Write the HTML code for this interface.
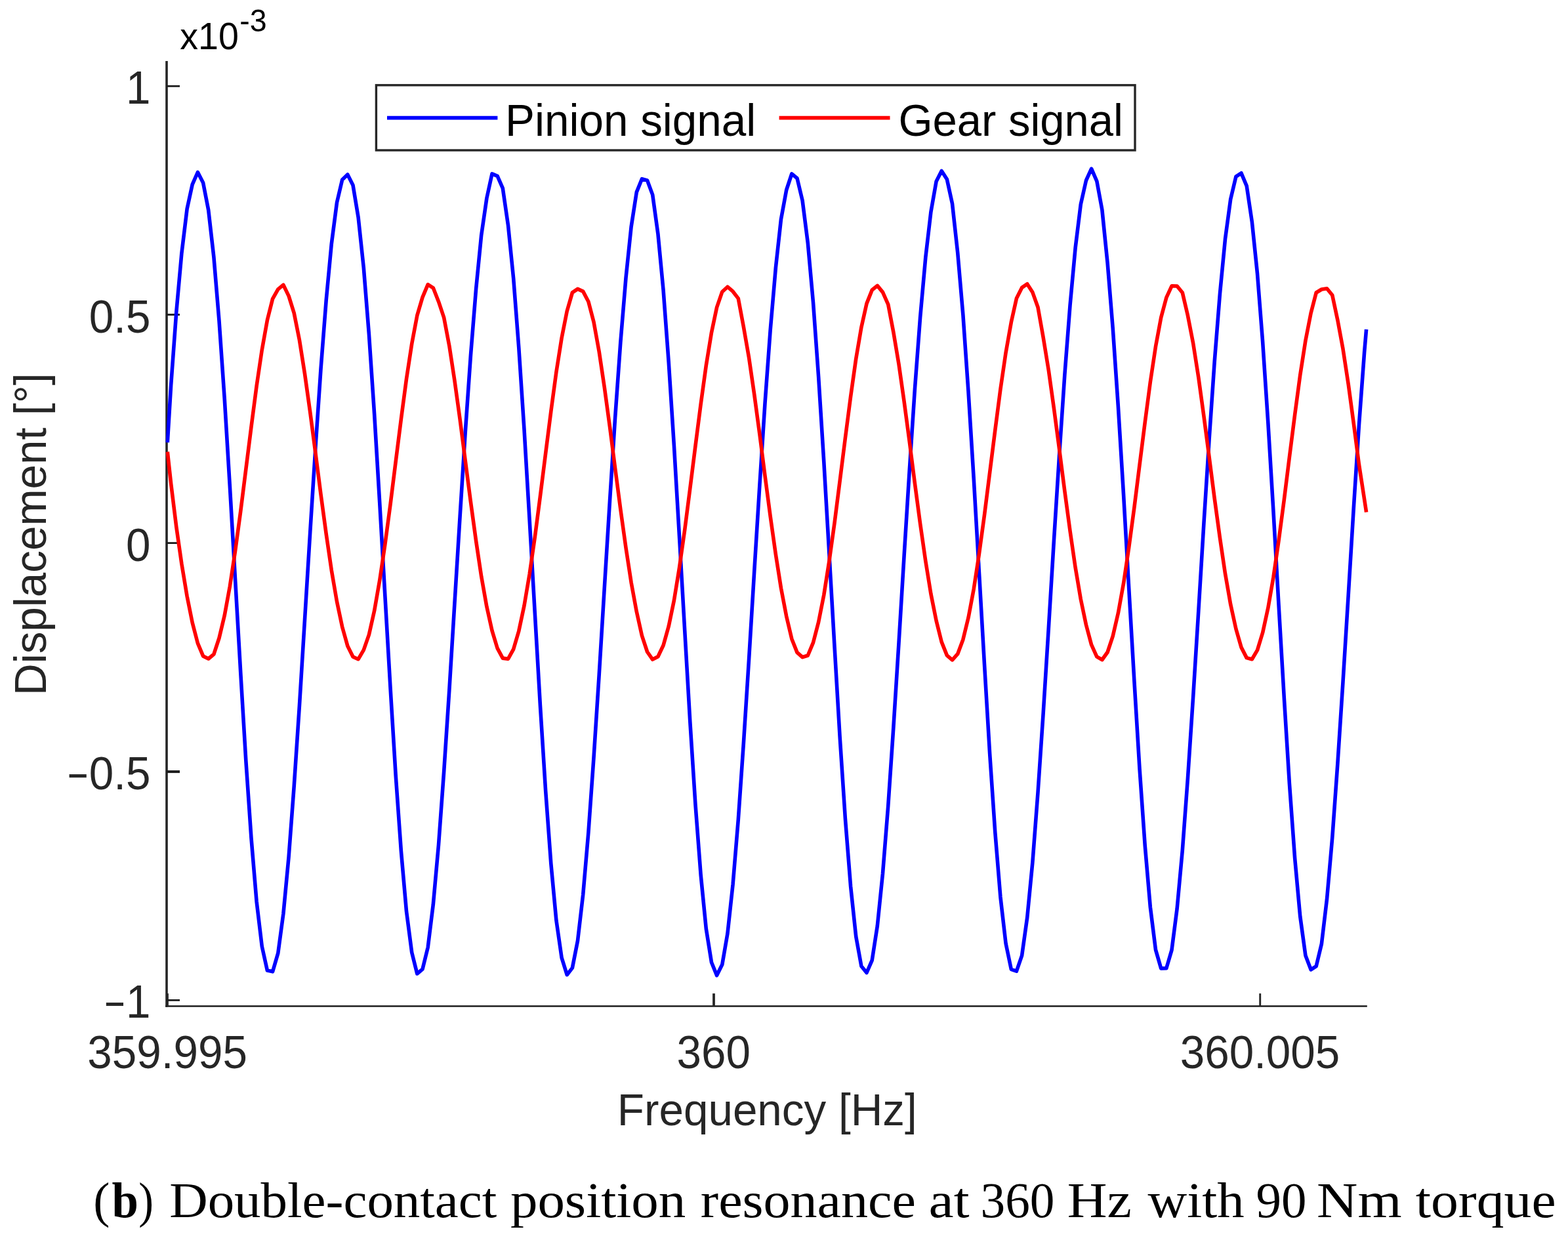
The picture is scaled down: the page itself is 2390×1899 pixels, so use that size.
<!DOCTYPE html>
<html lang="en">
<head>
<meta charset="utf-8">
<title>Double-contact position resonance at 360 Hz with 90 Nm torque</title>
<style>
html,body{margin:0;padding:0;background:#fff;}
body{width:2390px;height:1899px;overflow:hidden;}
svg{display:block;}
</style>
</head>
<body>
<svg width="2390" height="1899" viewBox="0 0 2390 1899" role="img" aria-label="Pinion and gear signal displacement versus frequency">
<rect width="2390" height="1899" fill="#fff"/>
<g fill="none" stroke-linecap="butt">
<line x1="254.0" y1="93.1" x2="254.0" y2="1534.80" stroke="#262626" stroke-width="3.6"/>
<line x1="252.20" y1="1533.5" x2="2083.8" y2="1533.5" stroke="#1c1c1c" stroke-width="2.6"/>
<line x1="255.3" y1="1533.5" x2="255.3" y2="1514.1" stroke="#262626" stroke-width="3.2"/>
<line x1="1088.0" y1="1533.5" x2="1088.0" y2="1514.1" stroke="#262626" stroke-width="3.8"/>
<line x1="1920.7" y1="1533.5" x2="1920.7" y2="1514.1" stroke="#262626" stroke-width="2.9"/>
<line x1="254.0" y1="131.3" x2="274.0" y2="131.3" stroke="#1c1c1c" stroke-width="2.8"/>
<line x1="254.0" y1="479.6" x2="274.0" y2="479.6" stroke="#1c1c1c" stroke-width="2.9"/>
<line x1="254.0" y1="827.6" x2="274.0" y2="827.6" stroke="#1c1c1c" stroke-width="2.8"/>
<line x1="254.0" y1="1176.1" x2="274.0" y2="1176.1" stroke="#1c1c1c" stroke-width="4.0"/>
<line x1="254.0" y1="1524.4" x2="274.0" y2="1524.4" stroke="#1c1c1c" stroke-width="2.8"/>
</g>
<polyline points="255.3,674.4 260.6,587.5 268.8,475.5 276.9,385.8 285.1,318.3 293.2,281.2 301.4,262.5 309.6,278.5 317.7,320.1 325.9,391.9 334.0,489.0 342.2,607.2 350.3,740.5 358.5,882.2 366.7,1024.3 374.8,1158.8 383.0,1277.7 391.1,1374.1 399.3,1442.5 407.4,1479.1 415.6,1480.8 423.8,1452.6 431.9,1392.5 440.1,1305.9 448.2,1198.3 456.4,1075.8 464.5,944.6 472.7,811.4 480.9,682.1 489.0,562.5 497.2,457.5 505.3,371.6 513.5,308.6 521.6,274.1 529.8,266.0 538.0,282.2 546.1,331.3 554.3,408.0 562.4,509.3 570.6,630.7 578.7,766.1 586.9,908.5 595.1,1049.8 603.2,1182.0 611.4,1297.2 619.5,1388.9 627.7,1451.6 635.8,1484.0 644.0,1477.1 652.2,1443.8 660.3,1378.4 668.5,1287.6 676.6,1176.8 684.8,1052.2 692.9,920.2 701.1,787.2 709.2,659.3 717.4,542.0 725.6,440.2 733.7,358.3 741.9,302.0 750.0,264.9 758.2,268.4 766.3,286.9 774.5,343.3 782.7,424.8 790.8,530.2 799.0,654.6 807.1,791.9 815.3,934.7 823.4,1075.0 831.6,1204.6 839.8,1316.0 847.9,1402.7 856.1,1459.7 864.2,1485.7 872.4,1475.1 880.5,1433.9 888.7,1363.5 896.9,1268.6 905.0,1154.8 913.2,1028.3 921.3,895.7 929.5,763.2 937.6,636.9 945.8,522.0 954.0,423.6 962.1,345.7 970.3,292.9 978.4,272.7 986.6,275.0 994.7,296.9 1002.9,356.3 1011.1,442.5 1019.2,551.8 1027.4,679.1 1035.5,817.9 1043.7,960.9 1051.8,1099.8 1060.0,1226.6 1068.2,1333.9 1076.3,1415.5 1084.5,1466.7 1092.6,1486.6 1100.8,1469.9 1108.9,1423.1 1117.1,1347.8 1125.3,1249.0 1133.4,1132.3 1141.6,1004.3 1149.7,871.2 1157.9,739.4 1166.0,614.8 1174.2,502.6 1182.4,407.7 1190.5,333.9 1198.7,289.5 1206.8,265.0 1215.0,271.6 1223.1,305.7 1231.3,370.2 1239.5,460.9 1247.6,573.9 1255.8,703.9 1263.9,844.1 1272.1,986.9 1280.2,1124.2 1288.4,1247.9 1296.6,1351.0 1304.7,1427.2 1312.9,1472.5 1321.0,1482.5 1329.2,1463.6 1337.3,1411.3 1345.5,1331.3 1353.7,1228.7 1361.8,1109.5 1370.0,980.0 1378.1,846.8 1386.3,715.9 1394.4,593.1 1402.6,483.8 1410.8,392.4 1418.9,323.0 1427.1,276.6 1435.2,260.5 1443.4,273.3 1451.5,310.4 1459.7,385.0 1467.9,480.1 1476.0,596.7 1484.2,729.0 1492.3,870.3 1500.5,1012.7 1508.6,1148.1 1516.8,1268.6 1524.9,1367.1 1533.1,1438.0 1541.3,1477.3 1549.4,1480.2 1557.6,1456.3 1565.7,1398.5 1573.9,1314.0 1582.0,1207.9 1590.2,1086.4 1598.4,955.7 1606.5,822.4 1614.7,692.6 1622.8,571.9 1631.0,465.6 1639.1,377.9 1647.3,311.3 1655.5,275.0 1663.6,257.2 1671.8,276.1 1679.9,320.1 1688.1,400.6 1696.2,500.0 1704.4,620.0 1712.6,754.5 1720.7,896.6 1728.9,1038.3 1737.0,1171.5 1745.2,1288.5 1753.3,1382.3 1761.5,1447.6 1769.7,1475.9 1777.8,1475.8 1786.0,1447.9 1794.1,1384.9 1802.3,1296.0 1810.4,1186.6 1818.6,1062.9 1826.8,931.3 1834.9,798.2 1843.1,669.6 1851.2,551.2 1859.4,448.0 1867.5,364.2 1875.7,303.6 1883.9,269.2 1892.0,263.8 1900.2,283.4 1908.3,337.8 1916.5,417.1 1924.6,520.6 1932.8,643.7 1941.0,780.2 1949.1,922.8 1957.3,1063.6 1965.4,1194.4 1973.6,1307.6 1981.7,1396.5 1989.9,1456.2 1998.1,1477.8 2006.2,1472.6 2014.4,1438.5 2022.5,1370.4 2030.7,1277.3 2038.8,1164.8 2047.0,1039.1 2055.2,906.8 2063.3,774.1 2071.5,647.0 2079.6,537.0 2082.6,502.0" fill="none" stroke="#0000ff" stroke-width="5.6" stroke-linejoin="round" stroke-linecap="butt"/>
<polyline points="255.3,688.6 260.6,736.9 268.8,803.1 276.9,859.5 285.1,908.8 293.2,949.0 301.4,980.4 309.6,999.9 317.7,1004.0 325.9,997.1 334.0,972.5 342.2,938.2 350.3,893.9 358.5,840.2 366.7,779.7 374.8,715.3 383.0,650.3 391.1,588.4 399.3,533.2 407.4,487.9 415.6,455.3 423.8,440.8 431.9,434.2 440.1,451.1 448.2,477.1 456.4,518.2 464.5,569.5 472.7,628.0 480.9,690.3 489.0,753.3 497.2,813.8 505.3,869.2 513.5,916.9 521.6,955.2 529.8,984.5 538.0,1001.0 546.1,1004.7 554.3,990.7 562.4,967.3 570.6,930.9 578.7,884.6 586.9,829.6 595.1,768.1 603.2,703.3 611.4,638.6 619.5,577.7 627.7,524.0 635.8,480.9 644.0,453.1 652.2,433.7 660.3,438.8 668.5,459.7 676.6,483.8 684.8,526.9 692.9,579.8 701.1,639.2 709.2,701.9 717.4,764.7 725.6,824.5 733.7,878.6 741.9,924.7 750.0,961.1 758.2,988.2 766.3,1003.1 774.5,1004.2 782.7,989.3 790.8,961.7 799.0,923.1 807.1,875.1 815.3,818.7 823.4,756.4 831.6,691.3 839.8,627.1 847.9,567.2 856.1,515.2 864.2,474.3 872.4,445.9 880.5,440.4 888.7,444.1 896.9,459.8 905.0,490.8 913.2,536.0 921.3,590.3 929.5,650.6 937.6,713.5 945.8,776.0 954.0,834.9 962.1,887.7 970.3,932.2 978.4,968.6 986.6,993.5 994.7,1005.1 1002.9,1000.8 1011.1,983.5 1019.2,954.6 1027.4,915.1 1035.5,865.3 1043.7,807.6 1051.8,744.5 1060.0,679.4 1068.2,615.6 1076.3,557.0 1084.5,506.8 1092.6,468.3 1100.8,444.7 1108.9,437.2 1117.1,444.2 1125.3,454.9 1133.4,498.3 1141.6,545.3 1149.7,601.0 1157.9,662.0 1166.0,725.1 1174.2,787.1 1182.4,845.1 1190.5,896.5 1198.7,939.3 1206.8,973.7 1215.0,994.4 1223.1,1001.7 1231.3,999.0 1239.5,979.4 1247.6,948.2 1255.8,906.7 1263.9,855.3 1272.1,796.3 1280.2,732.6 1288.4,667.5 1296.6,604.4 1304.7,547.0 1312.9,498.8 1321.0,462.6 1329.2,442.0 1337.3,435.4 1345.5,445.4 1353.7,463.8 1361.8,506.1 1370.0,555.0 1378.1,611.9 1386.3,673.5 1394.4,736.7 1402.6,798.1 1410.8,855.1 1418.9,905.1 1427.1,946.0 1435.2,978.4 1443.4,998.9 1451.5,1005.8 1459.7,996.7 1467.9,974.7 1476.0,941.4 1484.2,897.9 1492.3,845.0 1500.5,784.9 1508.6,720.7 1516.8,655.6 1524.9,593.3 1533.1,537.4 1541.3,491.2 1549.4,454.8 1557.6,438.4 1565.7,432.7 1573.9,445.6 1582.0,468.3 1590.2,514.4 1598.4,564.9 1606.5,622.9 1614.7,685.1 1622.8,748.1 1631.0,809.0 1639.1,864.8 1647.3,913.3 1655.5,952.4 1663.6,982.7 1671.8,1000.9 1679.9,1005.5 1688.1,994.0 1696.2,969.7 1704.4,934.2 1712.6,888.8 1720.7,834.4 1728.9,773.4 1737.0,708.7 1745.2,643.9 1753.3,582.5 1761.5,528.1 1769.7,484.0 1777.8,453.7 1786.0,435.8 1794.1,436.0 1802.3,446.0 1810.4,480.7 1818.6,522.9 1826.8,575.1 1834.9,634.1 1843.1,696.7 1851.2,759.6 1859.4,819.7 1867.5,874.3 1875.7,921.2 1883.9,958.5 1892.0,986.6 1900.2,1002.6 1908.3,1004.7 1916.5,990.9 1924.6,964.3 1932.8,926.7 1941.0,879.5 1949.1,823.6 1957.3,761.7 1965.4,696.7 1973.6,632.3 1981.7,571.9 1989.9,519.2 1998.1,477.2 2006.2,446.0 2014.4,441.0 2022.5,439.8 2030.7,449.7 2038.8,487.6 2047.0,531.8 2055.2,585.5 2063.3,645.4 2071.5,708.3 2079.6,760.9 2082.6,780.7" fill="none" stroke="#ff0000" stroke-width="5.6" stroke-linejoin="round" stroke-linecap="butt"/>
<g font-family="'Liberation Sans', sans-serif" font-size="67.4" fill="#262626">
<text transform="translate(229.5,158.2) scale(1,1.045)" text-anchor="end">1</text>
<text transform="translate(229.5,506.5) scale(1,1.045)" text-anchor="end">0.5</text>
<text transform="translate(229.5,854.5) scale(1,1.045)" text-anchor="end">0</text>
<text transform="translate(0,1203.0) scale(1,1.045)"><tspan x="102.8" dy="2.6" textLength="31.5" lengthAdjust="spacingAndGlyphs">−</tspan><tspan x="135.8" dy="-2.6">0.5</tspan></text>
<text transform="translate(0,1551.3) scale(1,1.045)"><tspan x="159.0" dy="2.6" textLength="31.5" lengthAdjust="spacingAndGlyphs">−</tspan><tspan x="192.0" dy="-2.6">1</tspan></text>
<text transform="translate(255.1,1627.8) scale(1,1.045)" text-anchor="middle">359.995</text>
<text transform="translate(1087.8,1627.8) scale(1,1.045)" text-anchor="middle">360</text>
<text transform="translate(1920.5,1627.8) scale(1,1.045)" text-anchor="middle">360.005</text>
<text transform="translate(1169.3,1715.2) scale(1,1.03)" text-anchor="middle">Frequency [Hz]</text>
<text transform="translate(70,814.3) rotate(-90) scale(1,1.03)" text-anchor="middle">Displacement [°]</text>
</g>
<text transform="translate(274.3,75.1) scale(1,1.035)" font-family="'Liberation Sans', sans-serif" font-size="55.6" fill="#000">x10<tspan font-size="46.5" dx="1.3" dy="-26">-3</tspan></text>
<rect x="573.4" y="129.8" width="1156.6" height="99.2" fill="#fff" stroke="#262626" stroke-width="3.4"/>
<line x1="590" y1="179.6" x2="758.4" y2="179.6" stroke="#0000ff" stroke-width="5.9"/>
<line x1="1187.6" y1="179.6" x2="1356.5" y2="179.6" stroke="#ff0000" stroke-width="5.9"/>
<g font-family="'Liberation Sans', sans-serif" font-size="67.4" fill="#000">
<text transform="translate(770.1,207.0) scale(1,1.03)">Pinion signal</text>
<text transform="translate(1369.4,207.0) scale(1,1.03)" textLength="342.6" lengthAdjust="spacingAndGlyphs">Gear signal</text>
</g>
<text y="1855.0" font-family="'Liberation Serif', serif" font-size="77.0" fill="#000" xml:space="preserve"><tspan x="142.3" textLength="25.2" lengthAdjust="spacingAndGlyphs">(</tspan><tspan x="170.5" textLength="40.4" lengthAdjust="spacingAndGlyphs" font-weight="bold">b</tspan><tspan x="211.2" textLength="22.8" lengthAdjust="spacingAndGlyphs">)</tspan> <tspan x="258.2" textLength="499.0" lengthAdjust="spacingAndGlyphs">Double-contact</tspan> <tspan x="777.9" textLength="267.4" lengthAdjust="spacingAndGlyphs">position</tspan> <tspan x="1067.8" textLength="328.1" lengthAdjust="spacingAndGlyphs">resonance</tspan> <tspan x="1415.5" textLength="62.0" lengthAdjust="spacingAndGlyphs">at</tspan> <tspan x="1494.6" textLength="112.9" lengthAdjust="spacingAndGlyphs">360</tspan> <tspan x="1626.8" textLength="98.1" lengthAdjust="spacingAndGlyphs">Hz</tspan> <tspan x="1749.6" textLength="146.9" lengthAdjust="spacingAndGlyphs">with</tspan> <tspan x="1914.5" textLength="77.0" lengthAdjust="spacingAndGlyphs">90</tspan> <tspan x="2007.1" textLength="129.5" lengthAdjust="spacingAndGlyphs">Nm</tspan> <tspan x="2157.7" textLength="213.9" lengthAdjust="spacingAndGlyphs">torque</tspan></text>
</svg>
</body>
</html>
